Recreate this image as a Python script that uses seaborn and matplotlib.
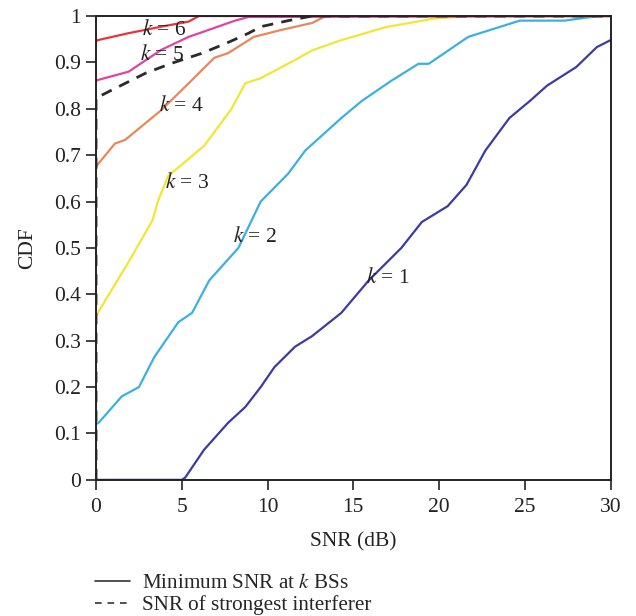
import matplotlib
matplotlib.use("Agg")
import matplotlib.pyplot as plt
import seaborn as sns
import pandas as pd
from matplotlib.lines import Line2D

# ---- data ----
k1_x = [0, 5, 5.2, 6.3, 7.7, 8.7, 9.6, 10.4, 11.6, 12.6, 14.3, 15.9, 17.8, 19, 20.5, 21.6, 22.7, 24.1, 25.3, 26.3, 28, 29.2, 30]
k1_y = [0, 0, 0.005, 0.065, 0.123, 0.157, 0.2, 0.243, 0.287, 0.31, 0.36, 0.43, 0.50, 0.556, 0.59, 0.636, 0.71, 0.78, 0.817, 0.85, 0.89, 0.933, 0.948]

k2_x = [0, 0.15, 1.5, 2.5, 3.4, 4.8, 5.6, 6.6, 8.3, 9.6, 11.2, 12.2, 14.3, 15.5, 17.2, 18.8, 19.4, 21.7, 24.7, 27.3, 29.3, 30]
k2_y = [0.12, 0.123, 0.18, 0.20, 0.265, 0.34, 0.36, 0.43, 0.50, 0.60, 0.66, 0.71, 0.78, 0.817, 0.86, 0.897, 0.897, 0.955, 0.99, 0.99, 1.0, 1.0]

k3_x = [0, 0.1, 1.9, 3.3, 3.6, 4.2, 6.3, 7.9, 8.7, 9.6, 11.6, 12.6, 14.3, 16.9, 19.8, 22, 30]
k3_y = [0.355, 0.36, 0.47, 0.56, 0.60, 0.655, 0.72, 0.80, 0.855, 0.866, 0.905, 0.926, 0.948, 0.976, 0.995, 1.0, 1.0]

k4_x = [0, 0.1, 1.1, 1.7, 3.8, 5.4, 6.9, 7.7, 9.2, 10.8, 12.6, 13.4, 30]
k4_y = [0.675, 0.68, 0.725, 0.733, 0.797, 0.855, 0.91, 0.92, 0.955, 0.97, 0.985, 1.0, 1.0]

k5_x = [0, 0.1, 1.9, 3.8, 5.4, 7.1, 8.1, 8.9, 30]
k5_y = [0.86, 0.862, 0.88, 0.927, 0.955, 0.977, 0.99, 0.998, 1.0]

k6_x = [0, 0.1, 1.9, 3.8, 5.4, 6.0, 30]
k6_y = [0.945, 0.948, 0.963, 0.977, 0.988, 1.0, 1.0]

intf_x = [0, 0, 0.1, 0.9, 2.9, 4.4, 6.2, 7.7, 8.9, 9.6, 11.2, 12.6, 30]
intf_y = [0, 0.825, 0.825, 0.84, 0.877, 0.898, 0.92, 0.943, 0.963, 0.977, 0.99, 1.0, 1.0]

series_labels = ["1", "2", "3", "4", "5", "6"]
label_x = [15.75, 8.0, 4.0, 3.7, 2.55, 2.7]
label_y = [0.435, 0.524, 0.64, 0.805, 0.915, 0.97]

x_ticks = [0, 5, 10, 15, 20, 25, 30]
y_ticks = [0, 0.1, 0.2, 0.3, 0.4, 0.5, 0.6, 0.7, 0.8, 0.9, 1]
y_ticklabels = ["0", "0.1", "0.2", "0.3", "0.4", "0.5", "0.6", "0.7", "0.8", "0.9", "1"]

colors = ["#3b3ca3", "#3cb0e0", "#f2e634", "#ea875a", "#e044a2", "#e8343e"]

# ---- plotting ----
sns.set_theme(style="white")
plt.rcParams["font.family"] = ["Liberation Serif", "DejaVu Serif"]
plt.rcParams["mathtext.fontset"] = "stix"

fig = plt.figure(figsize=(6.36, 6.16), dpi=100)
ax = fig.add_axes([0.151, 0.221, 0.809, 0.753])

xs = [k1_x, k2_x, k3_x, k4_x, k5_x, k6_x]
ys = [k1_y, k2_y, k3_y, k4_y, k5_y, k6_y]
for x, y, c in zip(xs, ys, colors):
    df = pd.DataFrame({"x": x, "y": y})
    sns.lineplot(data=df, x="x", y="y", color=c, lw=1.6, ax=ax, sort=False, estimator=None)

dfi = pd.DataFrame({"x": intf_x, "y": intf_y})
sns.lineplot(data=dfi, x="x", y="y", color="#2a2a2a", lw=2.0, ls=(0, (4, 3)), ax=ax,
             sort=False, estimator=None)

for lab, lx, ly in zip(series_labels, label_x, label_y):
    ax.text(lx, ly, "$k$ = " + lab, fontsize=15.5, color="#222222", va="center", ha="left")

ax.set_xlim(0, 30)
ax.set_ylim(0, 1)
ax.set_xticks(x_ticks)
ax.set_yticks(y_ticks)
ax.set_yticklabels(y_ticklabels)
ax.tick_params(axis="both", direction="out", length=7, width=1.2, labelsize=15.5,
               left=True, bottom=True, top=False, right=False, colors="#222222")
ax.tick_params(axis="x", pad=6)
ax.tick_params(axis="y", pad=4)
for s in ax.spines.values():
    s.set_color("#222222")
    s.set_linewidth(1.4)
ax.set_xlabel("SNR (dB)", fontsize=15.5, color="#222222", labelpad=11)
ax.set_ylabel("CDF", fontsize=15.5, color="#222222", labelpad=12)

handles = [Line2D([], [], color="#333333", lw=1.2),
           Line2D([], [], color="#333333", lw=1.2, ls=(0, (4, 3.5)))]
fig.legend(handles, ["Minimum SNR at $k$ BSs", "SNR of strongest interferer"],
           loc="center left", bbox_to_anchor=(0.149, 0.0357), frameon=False,
           fontsize=15.2, handlelength=1.65, handletextpad=0.6, labelspacing=0.1,
           borderpad=0, borderaxespad=0)

fig.savefig("out.png", dpi=100)
